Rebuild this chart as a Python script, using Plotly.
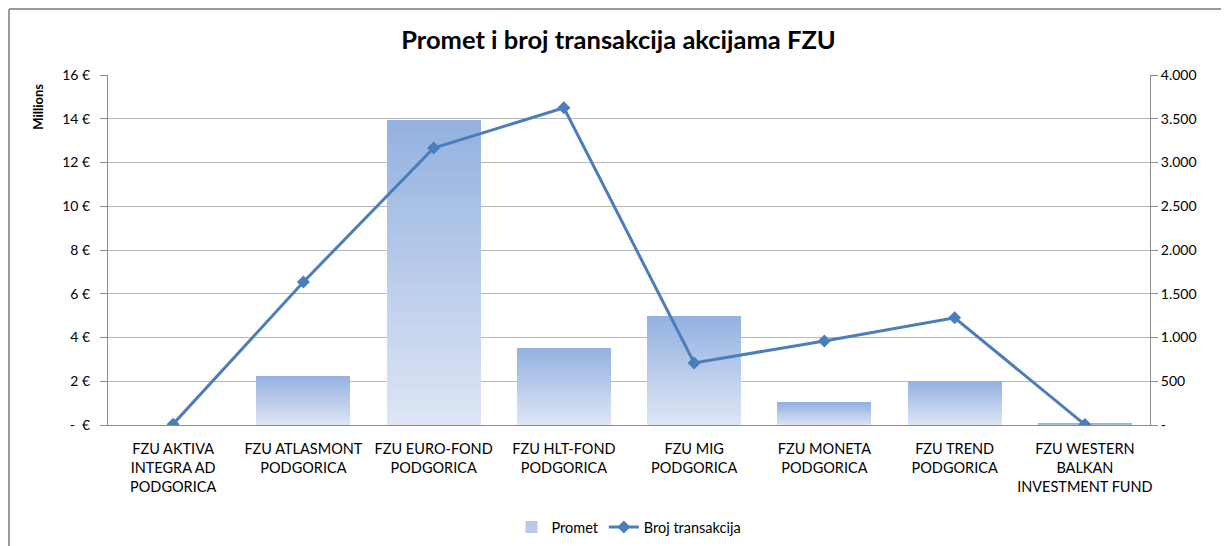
import plotly.graph_objects as go

categories = [
    "FZU AKTIVA<br>INTEGRA AD<br>PODGORICA",
    "FZU ATLASMONT<br>PODGORICA",
    "FZU EURO-FOND<br>PODGORICA",
    "FZU HLT-FOND<br>PODGORICA",
    "FZU MIG<br>PODGORICA",
    "FZU MONETA<br>PODGORICA",
    "FZU TREND<br>PODGORICA",
    "FZU WESTERN<br>BALKAN<br>INVESTMENT FUND",
]
promet_millions = [0.0, 2.24, 13.95, 3.5, 4.98, 1.02, 2.02, 0.06]
broj_transakcija = [10, 1635, 3165, 3625, 710, 960, 1225, 5]

left_tickvals = [0, 2, 4, 6, 8, 10, 12, 14, 16]
left_ticktext = ["-  €", "2 €", "4 €", "6 €", "8 €", "10 €", "12 €", "14 €", "16 €"]
right_tickvals = [0, 500, 1000, 1500, 2000, 2500, 3000, 3500, 4000]
right_ticktext = ["-", "500", "1.000", "1.500", "2.000", "2.500", "3.000", "3.500", "4.000"]

FONT = "Lato, 'Open Sans', sans-serif"
TOP = (0x93, 0xB1, 0xE0)
BOTTOM = (0xDF, 0xE6, 0xF5)
N = 24

fig = go.Figure()

for k in range(N):
    t = (k + 0.5) / N
    c = tuple(round(BOTTOM[i] + (TOP[i] - BOTTOM[i]) * t) for i in range(3))
    color = "rgb(%d,%d,%d)" % c
    fig.add_trace(go.Bar(
        x=categories,
        y=[v / N for v in promet_millions],
        marker=dict(color=color, line=dict(width=0)),
        name="Promet",
        showlegend=(k == N // 2),
        legendrank=1,
        hoverinfo="skip" if k != N - 1 else None,
    ))

fig.add_trace(go.Scatter(
    x=categories,
    y=broj_transakcija,
    yaxis="y2",
    mode="lines+markers",
    name="Broj transakcija",
    line=dict(color="#4A7EBB", width=3),
    marker=dict(symbol="diamond", size=10, color="#4A7EBB"),
    legendrank=2,
))

fig.update_layout(
    width=1221,
    height=538,
    barmode="stack",
    bargap=0.28,
    paper_bgcolor="white",
    plot_bgcolor="white",
    margin=dict(l=100, r=79, t=67, b=121, autoexpand=False),
    font=dict(family=FONT, size=14, color="#000000"),
    title=dict(
        text="<b>Promet i broj transakcija akcijama FZU</b>",
        x=0.5, xanchor="center", y=0.9405, yanchor="middle",
        font=dict(family=FONT, size=25.5, color="#000000"),
    ),
    xaxis=dict(
        showline=True, linecolor="#8c8c8c", linewidth=1,
        ticks="", showgrid=False, automargin=False,
        tickfont=dict(size=14.5), ticklabelstandoff=11,
    ),
    yaxis=dict(
        range=[0, 16], automargin=False,
        tickvals=left_tickvals, ticktext=left_ticktext,
        showgrid=True, gridcolor="#b8b8b8", gridwidth=1,
        showline=True, linecolor="#8c8c8c", linewidth=1,
        ticks="outside", ticklen=7, tickcolor="#8c8c8c",
        tickfont=dict(size=14), ticklabelstandoff=7,
        zeroline=False,
    ),
    yaxis2=dict(
        range=[0, 4000], overlaying="y", side="right", automargin=False,
        tickvals=right_tickvals, ticktext=right_ticktext,
        showgrid=False,
        showline=True, linecolor="#8c8c8c", linewidth=1,
        ticks="outside", ticklen=7, tickcolor="#8c8c8c",
        tickfont=dict(size=14),
        zeroline=False,
    ),
    legend=dict(
        orientation="h", x=0.5, xanchor="center",
        yref="container", y=0.035, yanchor="middle",
        traceorder="normal", font=dict(size=14.5),
        bgcolor="rgba(0,0,0,0)",
    ),
    annotations=[dict(
        text="<b>Millions</b>", textangle=-90,
        xref="paper", yref="paper", x=-0.067, y=0.91,
        xanchor="center", yanchor="middle", showarrow=False,
        font=dict(family=FONT, size=13, color="#000000"),
    )],
    shapes=[
        dict(type="line", xref="paper", yref="paper",
             x0=-0.0950, x1=1.1, y0=1.1886, y1=1.1886,
             line=dict(color="#9a9a9a", width=2)),
        dict(type="line", xref="paper", yref="paper",
             x0=-0.0950, x1=-0.0950, y0=1.1886, y1=-0.36,
             line=dict(color="#9a9a9a", width=2)),
    ],
)

fig.write_html("out.html")
